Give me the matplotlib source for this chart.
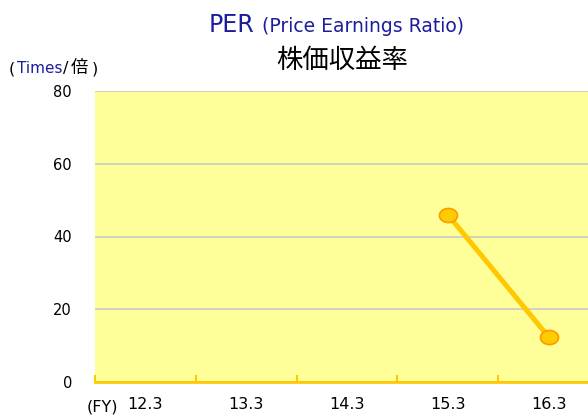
import numpy as np
import matplotlib.pyplot as plt
from matplotlib.path import Path

plt.rcParams['font.family'] = ['DejaVu Sans', 'Noto Sans CJK JP']

# data
years = ['12.3', '13.3', '14.3', '15.3', '16.3']
per = [np.nan, np.nan, np.nan, 46.0, 12.4]
y_ticks = [0, 20, 40, 60, 80]

# slightly flattened circle marker, like the original
t = np.linspace(0, 2 * np.pi, 60)
oval = Path(np.column_stack([np.cos(t), 0.78 * np.sin(t)]), closed=True)

fig = plt.figure(figsize=(5.88, 4.16), dpi=100)
ax = fig.add_axes([95 / 588, 1 - 382 / 416, 504 / 588, 291 / 416])
ax.set_facecolor('#FFFF99')

x = np.arange(len(years))
ax.plot(x, per, color='#FFC800', lw=3.6, marker=oval, ms=13,
        mfc='#FFCC00', mec='#FF9900', mew=1.2, zorder=3)

ax.set_xlim(-0.5, len(years) - 0.5)
ax.set_ylim(0, 80)
ax.set_yticks(y_ticks)
ax.yaxis.grid(True, color='#C8C8C8', lw=1.2)
ax.set_axisbelow(True)

ax.set_xticks(x)
ax.set_xticklabels(years)
ax.set_xticks(np.arange(len(years) + 1) - 0.5, minor=True)
ax.tick_params(axis='x', which='major', length=0, pad=11, labelsize=11.5)
ax.tick_params(axis='x', which='minor', length=5, width=1.5, direction='in', color='#FFC800')
ax.tick_params(axis='y', length=0, pad=16.5, labelsize=10.5)

for s in ['left', 'right', 'top']:
    ax.spines[s].set_visible(False)
ax.spines['bottom'].set_color('#FFC800')
ax.spines['bottom'].set_linewidth(2)

# titles
fig.text(254 / 588, 1 - 32 / 416, 'PER', ha='right', va='baseline', fontsize=17, color='#1C1CA0')
fig.text(262 / 588, 1 - 32 / 416, '(Price Earnings Ratio)', ha='left', va='baseline', fontsize=13.5, color='#1C1CA0')
fig.text(342 / 588, 1 - 61 / 416, '株価収益率', ha='center', va='center', fontsize=19, color='black')

# unit label
uy = 1 - 73 / 416
fig.text(9 / 588, uy, '(', ha='left', va='baseline', fontsize=11.5)
fig.text(17 / 588, uy, 'Times', ha='left', va='baseline', fontsize=11, color='#1C1CA0')
fig.text(63 / 588, uy, '/', ha='left', va='baseline', fontsize=11.5)
fig.text(71 / 588, uy, '倍', ha='left', va='baseline', fontsize=12.5)
fig.text(92 / 588, uy, ')', ha='left', va='baseline', fontsize=11.5)

fig.text(87 / 588, 1 - 407 / 416, '(FY)', ha='left', va='center', fontsize=11.5)

fig.savefig('out.png', dpi=100)
